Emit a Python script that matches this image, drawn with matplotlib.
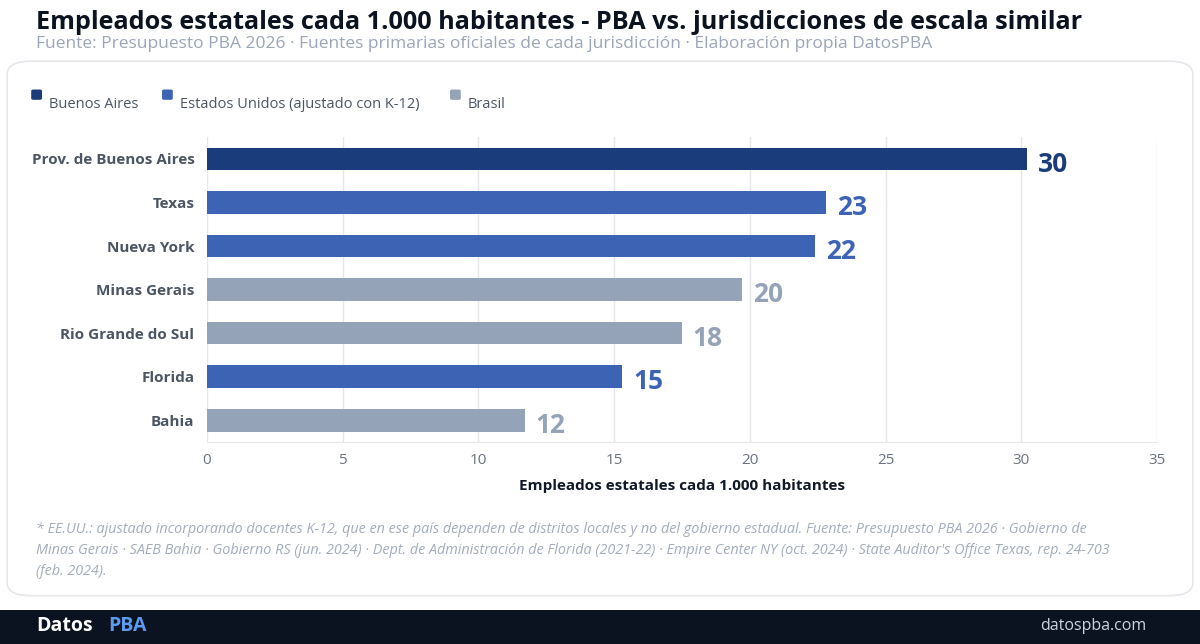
import matplotlib.pyplot as plt
from matplotlib.patches import FancyBboxPatch, Rectangle

plt.rcParams['font.family'] = ['Open Sans', 'DejaVu Sans']

# data
labels = ["Prov. de Buenos Aires", "Texas", "Nueva York", "Minas Gerais",
          "Rio Grande do Sul", "Florida", "Bahia"]
values = [30.2, 22.8, 22.4, 19.7, 17.5, 15.3, 11.7]
groups = ["Buenos Aires", "Estados Unidos", "Estados Unidos", "Brasil",
          "Brasil", "Estados Unidos", "Brasil"]
colors = {"Buenos Aires": "#1b3c7a", "Estados Unidos": "#3d63b5", "Brasil": "#94a3b8"}
legend_names = ["Buenos Aires", "Estados Unidos (ajustado con K-12)", "Brasil"]

fig = plt.figure(figsize=(12, 6.44), dpi=100)
fig.patch.set_facecolor("white")

# card and footer
fig.patches.append(FancyBboxPatch((0.006, 0.075), 0.988, 0.83, boxstyle="round,pad=0,rounding_size=0.02",
                                  transform=fig.transFigure, facecolor="white", edgecolor="#e5e7eb", lw=1.2, zorder=-5))
fig.patches.append(Rectangle((0, 0), 1, 0.053, transform=fig.transFigure, facecolor="#0b1220", edgecolor="none"))

fig.text(0.03, 0.965, "Empleados estatales cada 1.000 habitantes - PBA vs. jurisdicciones de escala similar",
         fontsize=18.2, fontweight="bold", color="#0b1220", va="center")
fig.text(0.03, 0.932, "Fuente: Presupuesto PBA 2026 · Fuentes primarias oficiales de cada jurisdicción · Elaboración propia DatosPBA",
         fontsize=12.5, color="#9aa5b8", va="center")

ax = fig.add_axes([0.1725, 0.3137, 0.7917, 0.4733])
ax.set_zorder(5)
ax.patch.set_alpha(0)
y = list(range(len(labels)))
bar_colors = [colors[g] for g in groups]
ax.barh(y, values, height=0.52, color=bar_colors)
for yi, v, c in zip(y, values, bar_colors):
    ax.text(v + 0.4, yi + 0.12, f"{round(v)}", color=c, fontsize=19, fontweight="bold", va="center")
ax.set_yticks(y)
ax.set_yticklabels(labels, fontsize=11, fontweight="bold", color="#4b5563")
ax.set_ylim(6.5, -0.5)
ax.set_xlim(0, 35)
ax.set_xticks(range(0, 36, 5))
ax.tick_params(axis="x", labelsize=11, colors="#6b7280", length=0, pad=8)
ax.tick_params(axis="y", length=0, pad=9)
ax.grid(axis="x", color="#e5e7eb", lw=1)
ax.set_axisbelow(True)
for s in ["top", "right", "left"]:
    ax.spines[s].set_visible(False)
ax.spines["bottom"].set_color("#e5e7eb")
ax.set_xlabel("Empleados estatales cada 1.000 habitantes", fontsize=11, fontweight="bold",
              color="#111827", labelpad=8)

# legend
lx = [0.026, 0.135, 0.375]
for x0, name, key in zip(lx, legend_names, ["Buenos Aires", "Estados Unidos", "Brasil"]):
    fig.patches.append(FancyBboxPatch((x0, 0.845), 0.009, 0.016, boxstyle="round,pad=0,rounding_size=0.002",
                                      transform=fig.transFigure, facecolor=colors[key], edgecolor="none"))
    fig.text(x0 + 0.015, 0.837, name, fontsize=10.5, color="#4b5563", va="center")

fig.text(0.03, 0.145,
         "* EE.UU.: ajustado incorporando docentes K-12, que en ese país dependen de distritos locales y no del gobierno estadual. Fuente: Presupuesto PBA 2026 · Gobierno de\n"
         "Minas Gerais · SAEB Bahia · Gobierno RS (jun. 2024) · Dept. de Administración de Florida (2021-22) · Empire Center NY (oct. 2024) · State Auditor's Office Texas, rep. 24-703\n"
         "(feb. 2024).", fontsize=10.4, style="italic", color="#a3acbb", va="center", linespacing=1.55)

fig.text(0.03, 0.028, "Datos", fontsize=14, fontweight="bold", color="white", va="center")
fig.text(0.09, 0.028, "PBA", fontsize=14, fontweight="bold", color="#5b9bf0", va="center")
fig.text(0.955, 0.028, "datospba.com", fontsize=11.5, color="#cbd5e1", va="center", ha="right")

fig.savefig("out.png", dpi=100)
